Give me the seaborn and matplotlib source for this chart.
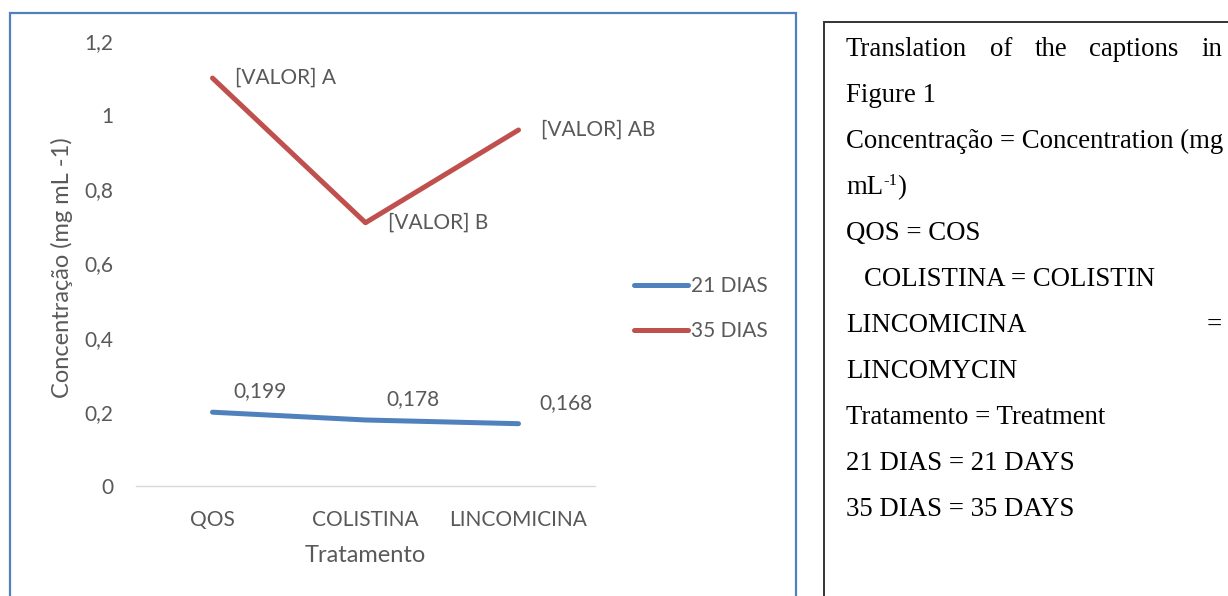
import matplotlib
matplotlib.use("Agg")
import matplotlib.pyplot as plt
import seaborn as sns
import pandas as pd
from matplotlib.patches import Rectangle

# dados
tratamentos = ["QOS", "COLISTINA", "LINCOMICINA"]
series = ["21 DIAS", "35 DIAS"]
dias_21 = [0.199, 0.178, 0.168]
dias_35 = [1.10, 0.71, 0.96]
rotulos_21 = ["0,199", "0,178", "0,168"]
rotulos_35 = ["[VALOR] A", "[VALOR] B", "[VALOR] AB"]
yticks = [0, 0.2, 0.4, 0.6, 0.8, 1.0, 1.2]
ytick_labels = ["0", "0,2", "0,4", "0,6", "0,8", "1", "1,2"]
cores = {"21 DIAS": "#4F81BD", "35 DIAS": "#C0504D"}

traducao = [
    "Translation of the captions in",
    "Figure 1",
    "Concentração = Concentration (mg",
    "mL-1)",
    "QOS = COS",
    "COLISTINA = COLISTIN",
    "LINCOMICINA =",
    "LINCOMYCIN",
    "Tratamento = Treatment",
    "21 DIAS = 21 DAYS",
    "35 DIAS = 35 DAYS",
]

W, H = 1228, 596
sns.set_theme(style="white")
plt.rcParams["font.family"] = ["Lato", "DejaVu Sans"]

cinza = "#595959"
fs = 15

df = pd.DataFrame({
    "Tratamento": tratamentos * 2,
    "Dias": [series[0]] * 3 + [series[1]] * 3,
    "Concentração": dias_21 + dias_35,
})

fig = plt.figure(figsize=(W / 100, H / 100), dpi=100)
ax = fig.add_axes([136 / W, 1 - 486 / H, (595 - 136) / W, (486 - 41) / H])

sns.lineplot(data=df, x="Tratamento", y="Concentração", hue="Dias",
             palette=cores, linewidth=3.6, sort=False, ax=ax)

ax.set_xlim(-0.5, 2.5)
ax.set_ylim(0, 1.2)
ax.set_yticks(yticks)
ax.set_yticklabels(ytick_labels)
ax.tick_params(axis="both", length=0, labelsize=fs, labelcolor=cinza)
ax.tick_params(axis="y", pad=16.5)
ax.tick_params(axis="x", pad=17)
for s in ["left", "right", "top"]:
    ax.spines[s].set_visible(False)
ax.spines["bottom"].set_color("#D9D9D9")
ax.spines["bottom"].set_linewidth(1)

ax.set_xlabel("Tratamento", fontsize=17, color=cinza, va="center")
ax.xaxis.set_label_coords(0.5, (486 - 556) / 445)
ax.set_ylabel("Concentração (mg mL -1)", fontsize=17, color=cinza, va="center")
ax.yaxis.set_label_coords((62 - 136) / 459, 0.49)

for i, (v, t) in enumerate(zip(dias_35, rotulos_35)):
    ax.annotate(t, (i, v), xytext=(16, 0), textcoords="offset points",
                ha="left", va="center", fontsize=fs, color=cinza)
for i, (v, t) in enumerate(zip(dias_21, rotulos_21)):
    ax.annotate(t, (i, v), xytext=(15, 15), textcoords="offset points",
                ha="left", va="center", fontsize=fs, color=cinza)

leg = ax.legend(loc="center left", bbox_to_anchor=(634 / W, 1 - 309 / H),
                bbox_transform=fig.transFigure, frameon=False, fontsize=fs,
                handlelength=2.6, handletextpad=0.12, labelspacing=1.2,
                borderaxespad=0, borderpad=0)
for txt in leg.get_texts():
    txt.set_color(cinza)
for ln in leg.get_lines():
    ln.set_linewidth(3.6)

# molduras
fig.add_artist(Rectangle((9.5 / W, -0.05), (796 - 9.5) / W, 0.05 + 1 - 13 / H,
                         transform=fig.transFigure, fill=False,
                         ec="#4F81BD", lw=1.6))
fig.add_artist(Rectangle((824 / W, -0.05), 0.5, 0.05 + 1 - 22 / H,
                         transform=fig.transFigure, fill=False,
                         ec="#333333", lw=1.4))

# texto da tradução
serif = dict(fontsize=19.3, family="Liberation Serif", color="black", va="baseline")
x0, x1 = 846, 1222
renderer = fig.canvas.get_renderer()


def largura(t):
    return t.get_window_extent(renderer).width


def linha_justificada(palavras, y):
    textos = [fig.text(0, y, p, **serif) for p in palavras]
    larguras = [largura(t) for t in textos]
    folga = (x1 - x0 - sum(larguras)) / (len(palavras) - 1)
    x = x0
    for t, w in zip(textos, larguras):
        t.set_x(x / W)
        x += w + folga


def linha_expoente(y):
    # "mL" + expoente "-1" + ")"
    t1 = fig.text(x0 / W, y, "mL", **serif)
    x = x0 + largura(t1)
    sup = dict(serif, fontsize=12)
    t2 = fig.text(x / W, y + 9 / H, "-1", **sup)
    x += largura(t2)
    fig.text(x / W, y, ")", **serif)


for i, linha in enumerate(traducao):
    y = 1 - (56 + 46 * i) / H
    if i == 0 or linha.endswith("="):
        linha_justificada(linha.split(), y)
    elif linha == "mL-1)":
        linha_expoente(y)
    elif linha.startswith("COLISTINA"):
        fig.text(864 / W, y, linha, **serif)
    else:
        fig.text(x0 / W, y, linha, **serif)

fig.savefig("out.png", dpi=100)
